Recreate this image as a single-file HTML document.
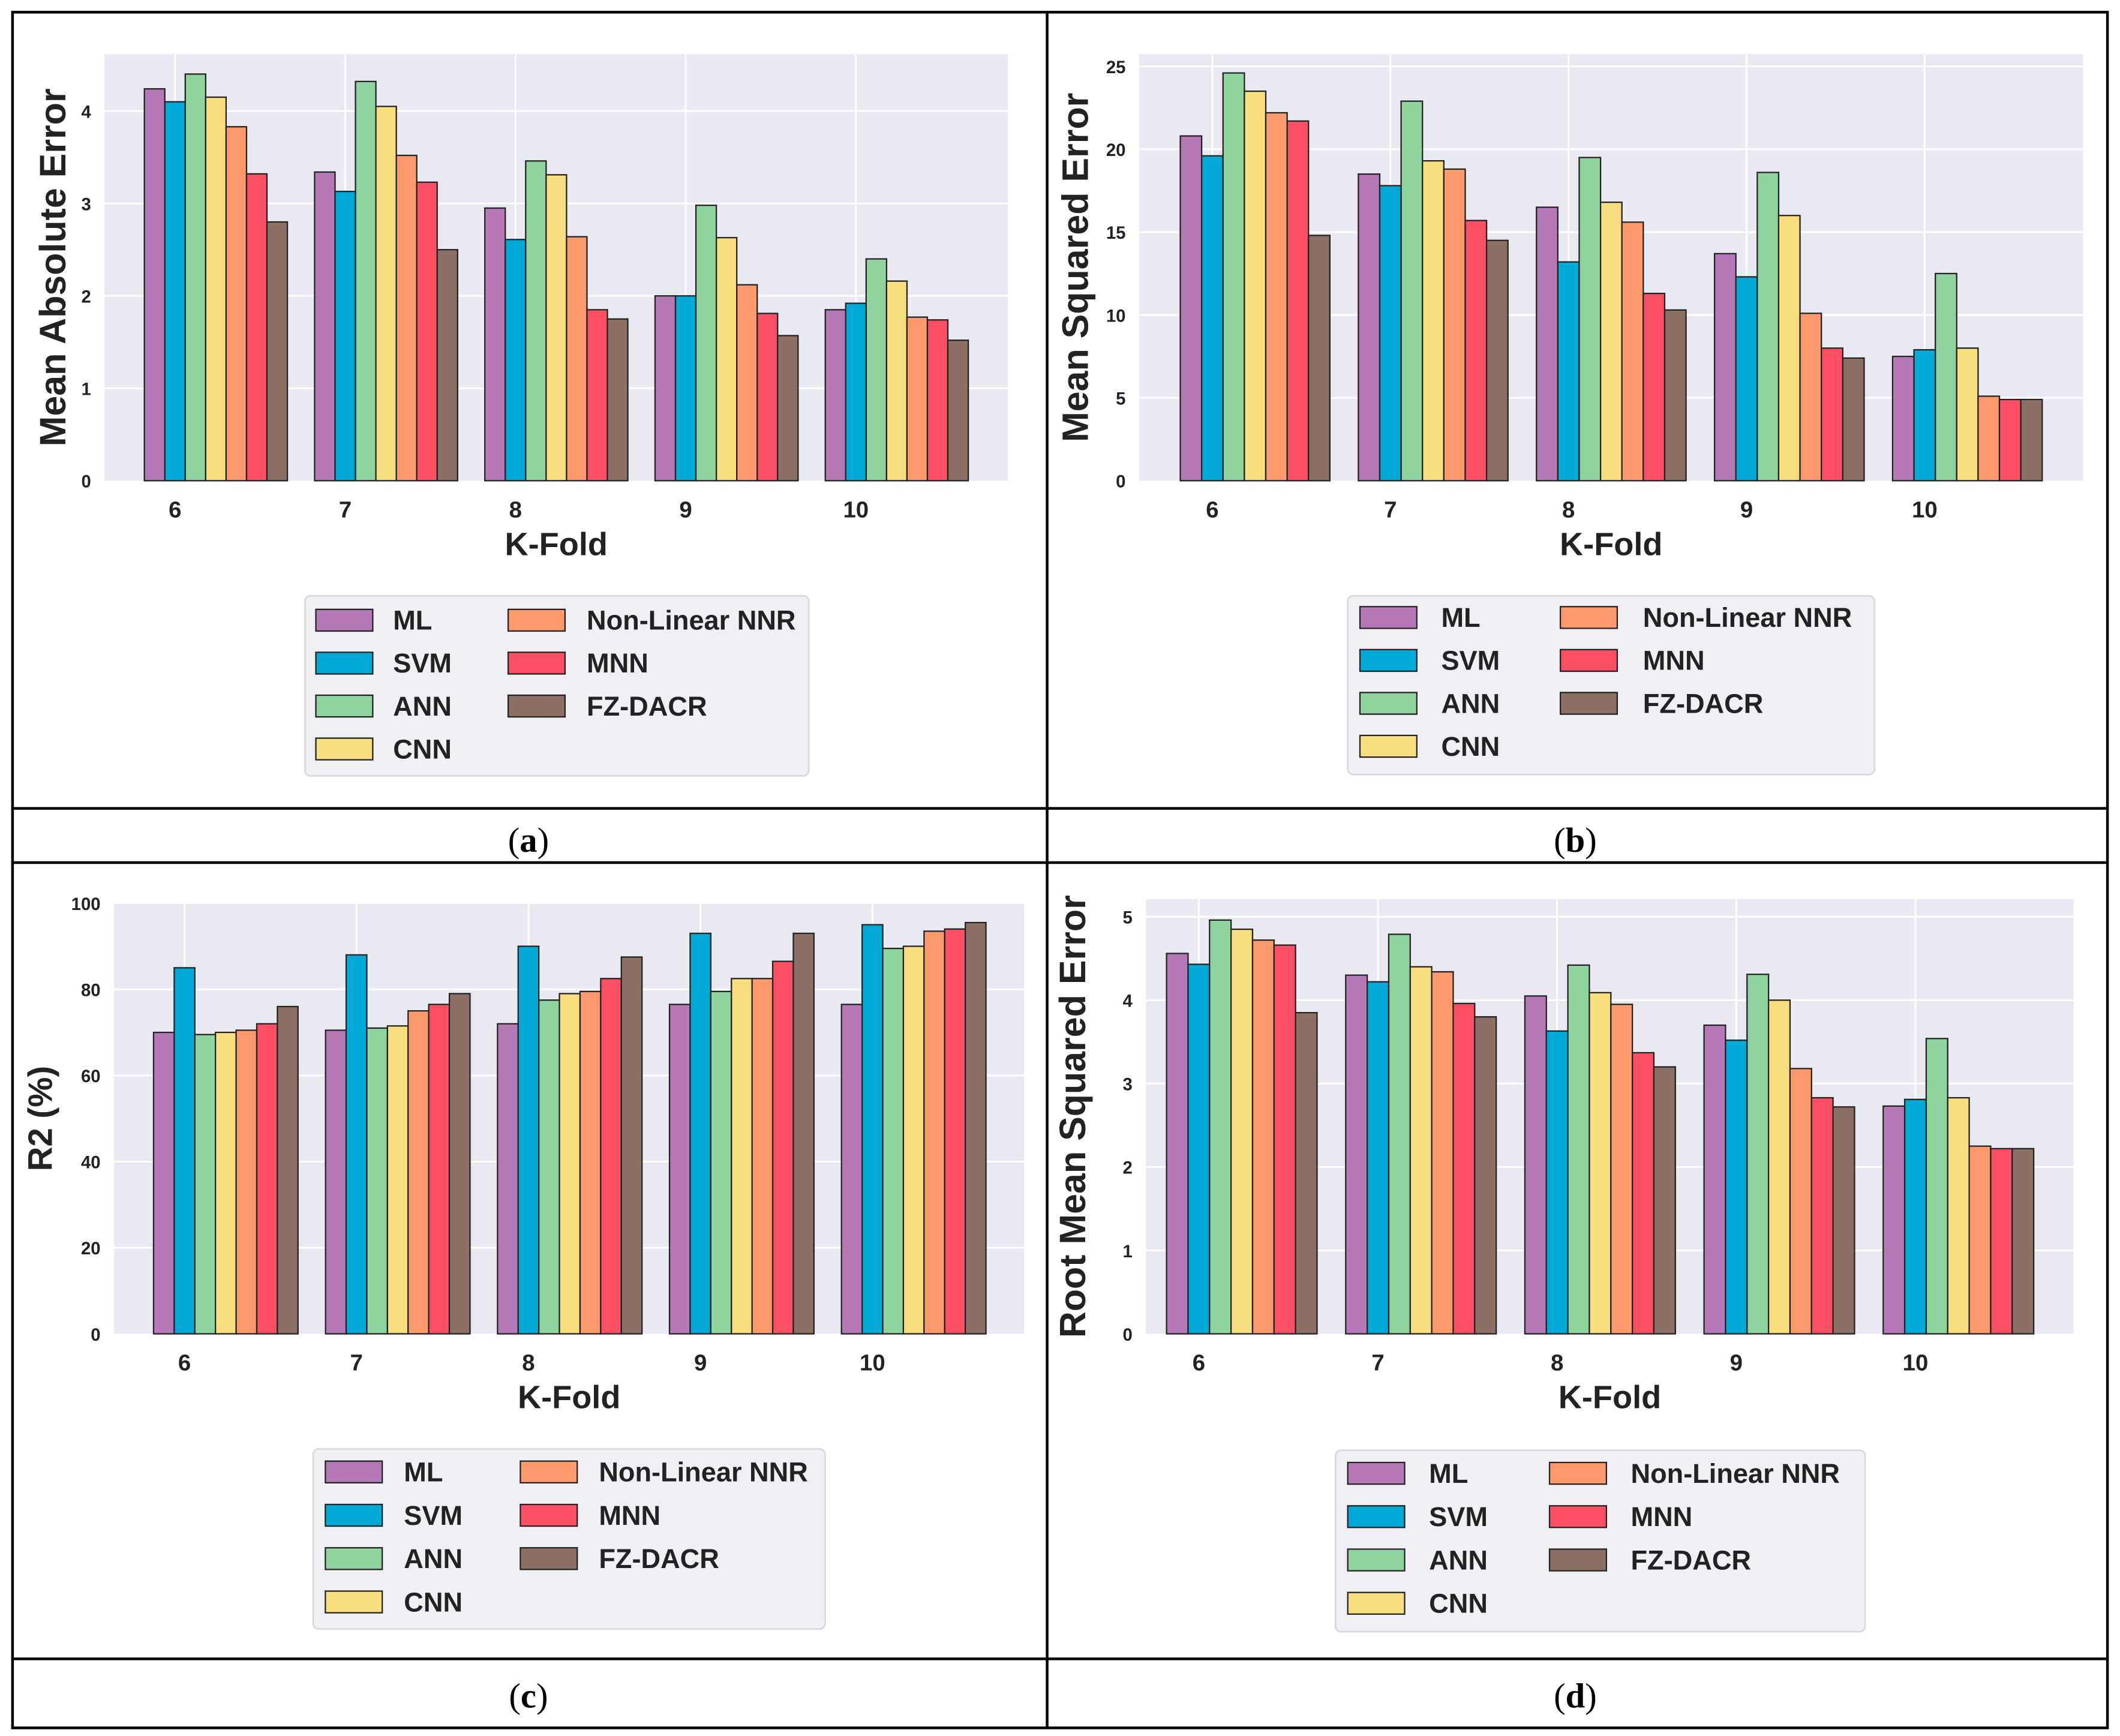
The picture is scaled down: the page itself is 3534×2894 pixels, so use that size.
<!DOCTYPE html>
<html><head><meta charset="utf-8"><style>
html,body{margin:0;padding:0;background:#fff;}
svg{display:block;}
</style></head><body>
<svg id="fig" xmlns="http://www.w3.org/2000/svg" width="3534" height="2894" viewBox="0 0 1565 1282" font-family="Liberation Sans, sans-serif">
<rect x="0" y="0" width="1565" height="1282" fill="#fff"/>
<g id="frame" stroke="#000" stroke-width="2" fill="none">
<rect x="9" y="9" width="1547" height="1267"/>
<line x1="773" y1="9" x2="773" y2="1276"/>
<line x1="9" y1="597" x2="1556" y2="597"/>
<line x1="9" y1="637" x2="1556" y2="637"/>
<line x1="9" y1="1225" x2="1556" y2="1225"/>
</g>
<g font-family="Liberation Serif, serif" font-size="26" text-anchor="middle">
<text x="390" y="629">(<tspan font-weight="bold">a</tspan>)</text>
<text x="1163" y="629">(<tspan font-weight="bold">b</tspan>)</text>
<text x="390" y="1261">(<tspan font-weight="bold">c</tspan>)</text>
<text x="1163" y="1261">(<tspan font-weight="bold">d</tspan>)</text>
</g>
</svg>
<script>
const categories = ["6","7","8","9","10"];
const seriesNames = ["ML","SVM","ANN","CNN","Non-Linear NNR","MNN","FZ-DACR"];
const seriesColors = ["#b679b8","#00a9d6","#8fd39e","#f9de80","#fd9a6d","#fb4f63","#8c7065"];
const maeValues = [
 [4.24,4.10,4.40,4.15,3.83,3.32,2.80],
 [3.34,3.13,4.32,4.05,3.52,3.23,2.50],
 [2.95,2.61,3.46,3.31,2.64,1.85,1.75],
 [2.00,2.00,2.98,2.63,2.12,1.81,1.57],
 [1.85,1.92,2.40,2.16,1.77,1.74,1.52]];
const maeTicks = [0,1,2,3,4];
const mseValues = [
 [20.8,19.6,24.6,23.5,22.2,21.7,14.8],
 [18.5,17.8,22.9,19.3,18.8,15.7,14.5],
 [16.5,13.2,19.5,16.8,15.6,11.3,10.3],
 [13.7,12.3,18.6,16.0,10.1,8.0,7.4],
 [7.5,7.9,12.5,8.0,5.1,4.9,4.9]];
const mseTicks = [0,5,10,15,20,25];
const r2Values = [
 [70,85,69.5,70,70.5,72,76],
 [70.5,88,71,71.5,75,76.5,79],
 [72,90,77.5,79,79.5,82.5,87.5],
 [76.5,93,79.5,82.5,82.5,86.5,93],
 [76.5,95,89.5,90,93.5,94,95.5]];
const r2Ticks = [0,20,40,60,80,100];
const rmseValues = [
 [4.56,4.43,4.96,4.85,4.72,4.66,3.85],
 [4.30,4.22,4.79,4.40,4.34,3.96,3.80],
 [4.05,3.63,4.42,4.09,3.95,3.37,3.20],
 [3.70,3.52,4.31,4.00,3.18,2.83,2.72],
 [2.73,2.81,3.54,2.83,2.25,2.22,2.22]];
const rmseTicks = [0,1,2,3,4,5];

const NS="http://www.w3.org/2000/svg";
const svg=document.getElementById('fig');
function mk(tag,attrs,parent){const e=document.createElementNS(NS,tag);for(const k in attrs)e.setAttribute(k,attrs[k]);(parent||svg).appendChild(e);return e;}

function panel(id,p,values,ticks,ylabel){
  const g=mk('g',{});
  
  
  const bg=mk('rect',{x:p.x0,y:p.top,width:p.x1-p.x0,height:p.y0-p.top,fill:'#e8e9f1'},g);
  
  
  const ys=v=>p.y0-(v-0)*(p.y0-p.yRefPx)/p.yRef;
  const xs=i=>p.xFirst+i*p.step;
  ticks.forEach(t=>{
    if(t>0){const gl=mk('line',{x1:p.x0,x2:p.x1,y1:ys(t),y2:ys(t),stroke:'#fff','stroke-width':1.3},g);
    
    }
    const tl=mk('text',{x:p.x0-10,y:ys(t)+5,'text-anchor':'end','font-size':13,'font-weight':'bold',fill:'#222'},g);
    tl.textContent=t;
    
    
  });
  categories.forEach((c,i)=>{
    const gl=mk('line',{x1:xs(i),x2:xs(i),y1:p.top,y2:p.y0,stroke:'#fff','stroke-width':1.3},g);
    
    
  });
  const w=p.step*0.12;
  values.forEach((grp,i)=>{
    grp.forEach((v,j)=>{
      const bx=xs(i)-1.5*w+j*w;
      const r=mk('rect',{x:bx,y:ys(v),width:w,height:p.y0-ys(v),fill:seriesColors[j],stroke:'#222','stroke-width':1},g);
      
      
    });
  });
  categories.forEach((c,i)=>{
    const tl=mk('text',{x:xs(i),y:p.y0+27,'text-anchor':'middle','font-size':17,'font-weight':'bold',fill:'#222'},g);
    tl.textContent=c;
    
    
  });
  const xl=mk('text',{x:(p.x0+p.x1)/2,y:p.y0+55,'text-anchor':'middle','font-size':24,'font-weight':'bold',fill:'#222'},g);
  xl.textContent='K-Fold';
  
  
  const yl=mk('text',{x:0,y:0,'text-anchor':'middle','font-size':p.ylfs||25,'font-weight':'bold',fill:'#222',transform:`translate(${p.ylx},${(p.top+p.y0)/2}) rotate(-90)`},g);
  yl.textContent=ylabel;
  
  
  const L=p.leg;
  const lg=mk('g',{},g);
  
  
  mk('rect',{x:L.x,y:L.y,width:L.w,height:L.h,rx:4,fill:'#efeff4',stroke:'#d8d8dd','stroke-width':1.2},lg);
  seriesNames.forEach((n,j)=>{
    const col=j<4?0:1,row=j<4?j:j-4;
    const px=col?L.p2:L.p1, tx=col?L.t2:L.t1, cy=L.r0+row*L.dr;
    const e=mk('g',{},lg);
    
    
    mk('rect',{x:px,y:cy-8,width:42,height:16,fill:seriesColors[j],stroke:'#222','stroke-width':1},e);
    const t=mk('text',{x:tx,y:cy+7,'font-size':20,'font-weight':'bold',fill:'#222'},e);
    t.textContent=n;
  });
}
panel('mae',{x0:77,x1:744,top:40,y0:355,yRef:4,yRefPx:82,xFirst:129,step:125.7,ylx:48,ylfs:27,
  leg:{x:225,y:440,w:372,h:133,p1:233,t1:290,p2:375,t2:433,r0:458,dr:31.7}},maeValues,maeTicks,'Mean Absolute Error');
panel('mse',{x0:841,x1:1538,top:40,y0:355,yRef:25,yRefPx:49,xFirst:895,step:131.5,ylx:803,ylfs:27,
  leg:{x:995,y:440,w:389,h:132,p1:1004,t1:1064,p2:1152,t2:1213,r0:456,dr:31.7}},mseValues,mseTicks,'Mean Squared Error');
panel('r2',{x0:84,x1:756,top:667,y0:985,yRef:100,yRefPx:667,xFirst:136,step:127,ylx:38,ylfs:25,
  leg:{x:231,y:1070,w:378,h:133,p1:240,t1:298,p2:384,t2:442,r0:1087,dr:32}},r2Values,r2Ticks,'R2 (%)');
panel('rmse',{x0:846,x1:1531,top:664,y0:985,yRef:5,yRefPx:677,xFirst:885,step:132.3,ylx:801,ylfs:27,
  leg:{x:986,y:1071,w:391,h:134,p1:995,t1:1055,p2:1144,t2:1204,r0:1088,dr:32}},rmseValues,rmseTicks,'Root Mean Squared Error');
</script>
</body></html>
